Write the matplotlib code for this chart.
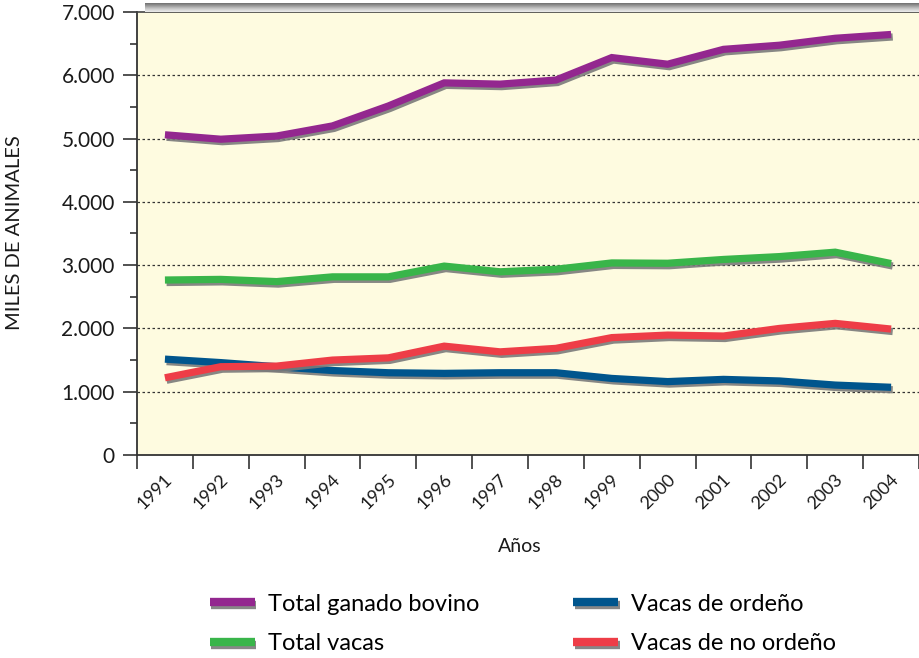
import matplotlib
matplotlib.use("Agg")
import matplotlib.pyplot as plt
import matplotlib.patheffects as pe
import matplotlib.transforms as mtransforms
import numpy as np
from matplotlib.ticker import FuncFormatter, MultipleLocator, FixedLocator

plt.rcParams['font.family'] = ['Lato', 'DejaVu Sans']

# data (miles de animales)
years = [1991, 1992, 1993, 1994, 1995, 1996, 1997, 1998, 1999, 2000, 2001, 2002, 2003, 2004]
total_bovino = [5060, 4990, 5040, 5200, 5515, 5880, 5860, 5925, 6280, 6175, 6410, 6475, 6585, 6645]
total_vacas = [2765, 2775, 2740, 2815, 2815, 2985, 2895, 2935, 3035, 3030, 3090, 3135, 3205, 3025]
vacas_ordeno = [1515, 1460, 1395, 1335, 1300, 1290, 1300, 1300, 1210, 1160, 1195, 1170, 1105, 1070]
vacas_no_ordeno = [1220, 1395, 1405, 1500, 1535, 1720, 1630, 1685, 1855, 1895, 1880, 2000, 2080, 1990]

series = [
    ("Total ganado bovino", total_bovino, "#93278F"),
    ("Total vacas", total_vacas, "#39B54A"),
    ("Vacas de ordeño", vacas_ordeno, "#00558D"),
    ("Vacas de no ordeño", vacas_no_ordeno, "#EE3D47"),
]

fig = plt.figure(figsize=(9.19, 6.58), dpi=100)
ax = fig.add_axes([137/919, 1 - 455/658, 1 - 137/919, (455 - 12)/658])
ax.set_facecolor("#FEFBE0")

x = np.arange(len(years)) + 0.5
shadow = [pe.SimpleLineShadow(offset=(1.2, -1.8), shadow_color="#7a7a7a", alpha=0.9), pe.Normal()]
for name, vals, col in series:
    ax.plot(x, vals, color=col, lw=5.2, label=name, solid_capstyle="butt",
            solid_joinstyle="miter", path_effects=shadow, zorder=3)

ax.set_xlim(0, 14)
ax.set_ylim(0, 7000)

# y axis
ax.yaxis.set_major_locator(MultipleLocator(1000))
ax.yaxis.set_minor_locator(MultipleLocator(500))
ax.yaxis.set_major_formatter(FuncFormatter(lambda v, p: f"{int(v):,}".replace(",", ".")))
ax.tick_params(axis="y", which="major", direction="out", length=10, width=1.2,
               color="#333333", labelsize=15, pad=6, labelcolor="#1a1a1a")
ax.tick_params(axis="y", which="minor", direction="out", length=5, width=1.2, color="#333333")

# x axis: tick marks between years, labels centred on years
ax.xaxis.set_major_locator(FixedLocator(np.arange(0, 15)))
ax.xaxis.set_major_formatter(FuncFormatter(lambda v, p: ""))
ax.set_xticks(x, [str(y) for y in years], minor=True)
ax.tick_params(axis="x", which="major", direction="out", length=10, width=1.2, color="#333333")
ax.tick_params(axis="x", which="minor", length=0, pad=16, labelsize=13, labelcolor="#1a1a1a")
shift = mtransforms.ScaledTranslation(5/100, 0, fig.dpi_scale_trans)
for lab in ax.get_xticklabels(minor=True):
    lab.set_rotation(45)
    lab.set_ha("right")
    lab.set_va("center")
    lab.set_rotation_mode("anchor")
    lab.set_transform(lab.get_transform() + shift)

# grid
for v in range(1000, 7000, 1000):
    ax.axhline(v, color="#333333", lw=0.9, ls=(0, (2, 2)), zorder=1)

for s in ["left", "bottom"]:
    ax.spines[s].set_color("#333333")
    ax.spines[s].set_linewidth(1.3)
ax.spines["top"].set_color("#444444")
ax.spines["top"].set_linewidth(1.2)
ax.spines["right"].set_visible(False)

fig.text(520/919, 1 - 546/658, "Años", ha="center", va="center", fontsize=14, color="#1a1a1a")
fig.text(15/919, 1 - 233/658, "MILES DE ANIMALES", rotation=90, ha="center", va="center",
         fontsize=14.5, color="#1a1a1a")

# gray shading bar above the plot
bar = fig.add_axes([145/919, 1 - 12/658, 1 - 145/919, 9/658])
grad = np.linspace(0, 1, 20).reshape(-1, 1)
bar.imshow(grad, aspect="auto", cmap="Greys", vmin=-0.3, vmax=1.6, origin="lower")
bar.axis("off")

leg = fig.legend(loc="center", bbox_to_anchor=(523/919, 1 - 624/658), ncol=2, frameon=False,
                 fontsize=17, handlelength=1.9, handletextpad=0.55, columnspacing=4.0,
                 labelspacing=0.8)
for h in leg.legend_handles:
    h.set_linewidth(6)

fig.savefig("out.png", dpi=100)
